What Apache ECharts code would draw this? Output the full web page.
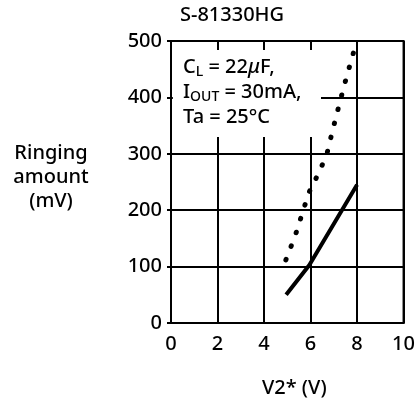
<!DOCTYPE html>
<html><head><meta charset="utf-8">
<script src="https://cdn.jsdelivr.net/npm/echarts@6/dist/echarts.min.js"></script>
<style>html,body{margin:0;padding:0;background:#fff}#c{width:418px;height:403px}</style>
</head><body><div id="c"></div>
<script>
const titleText = 'S-81330HG';
const xTicks = [0, 2, 4, 6, 8, 10];
const yTicks = [0, 100, 200, 300, 400, 500];
const solidX = [4.95, 5.95, 8.0];
const solidY = [50, 103, 245];
const dottedX = [4.94, 5.35, 5.71, 5.94, 6.22, 6.47, 6.71, 6.97, 7.25, 7.54, 7.85];
const dottedY = [112, 156, 203, 232, 255, 277, 301, 345, 390, 435, 480];
const yName = 'Ringing\namount\n(mV)';
const xName = 'V2* (V)';

const FONT = '"Noto Sans", sans-serif';
const FS = 20;
const FW = 500;
const chart = echarts.init(document.getElementById('c'), null, {renderer: 'canvas'});
const axisLine = {show: true, lineStyle: {color: '#000', width: 2}};
const split = {show: true, lineStyle: {color: '#000', width: 2}};
chart.setOption({
  animation: false,
  backgroundColor: '#fff',
  title: {text: titleText, left: 175, top: 0, textStyle: {fontFamily: FONT, fontSize: FS, fontWeight: FW, color: '#000'}},
  grid: {left: 171, right: 14, top: 41, bottom: 75, show: true, borderColor: '#000', borderWidth: 2, backgroundColor: 'transparent'},
  xAxis: {
    type: 'value', min: xTicks[0], max: xTicks[xTicks.length - 1], interval: 2,
    axisLine: axisLine, axisTick: {show: false}, splitLine: split,
    axisLabel: {fontFamily: FONT, fontSize: FS, fontWeight: FW, color: '#000', margin: 11},
    name: xName, nameLocation: 'middle', nameGap: 55,
    nameTextStyle: {fontFamily: FONT, fontSize: FS, fontWeight: FW, color: '#000', padding: [0, 0, 0, 14]}
  },
  yAxis: {
    type: 'value', min: yTicks[0], max: yTicks[yTicks.length - 1], interval: 100,
    axisLine: axisLine, axisTick: {show: true, length: 4, lineStyle: {color: '#000', width: 2}}, splitLine: split,
    axisLabel: {fontFamily: FONT, fontSize: FS, fontWeight: FW, color: '#000', margin: 9}
  },
  series: [
    {type: 'line', z: 5, data: solidX.map((x, i) => [x, solidY[i]]), symbol: 'none',
     lineStyle: {color: '#000', width: 4}},
    {type: 'line', z: 5, data: dottedX.map((x, i) => [x, dottedY[i]]), symbol: 'none',
     lineStyle: {color: '#000', width: 5, type: [0.5, 14], cap: 'round'}}
  ]
});

const p0 = chart.convertToPixel({gridIndex: 0}, [0.08, 484]);
const p1 = chart.convertToPixel({gridIndex: 0}, [6.45, 330]);
chart.setOption({
  graphic: [
    {type: 'rect', z: 3, shape: {x: p0[0], y: p0[1], width: p1[0] - p0[0], height: p1[1] - p0[1]},
     style: {fill: '#fff'}},
    {type: 'text', z: 6, x: 183, y: 55, style: {
      text: '{n|C}{s|L}{n| = 22}{i|μ}{n|F,}\n{n|I}{s|OUT}{n| = 30mA,}\n{n|Ta = 25°C}',
      rich: {
        n: {fontFamily: FONT, fontSize: FS, fontWeight: FW, fill: '#000', lineHeight: 25},
        i: {fontFamily: FONT, fontSize: FS, fontWeight: FW, fill: '#000', fontStyle: 'italic', lineHeight: 25},
        s: {fontFamily: FONT, fontSize: 14, fontWeight: FW, fill: '#000', padding: [10, 0, 0, 0], lineHeight: 25}
      }
    }},
    {type: 'text', z: 6, x: 51, y: 141, style: {
      text: yName, fontFamily: FONT, fontSize: FS, fontWeight: FW, fill: '#000', align: 'center', lineHeight: 24
    }}
  ]
});
</script></body></html>
